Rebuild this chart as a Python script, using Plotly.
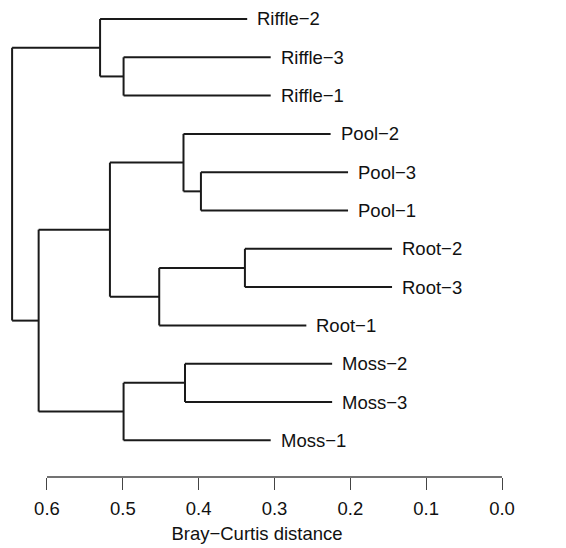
import plotly.graph_objects as go

# ---- data ----
leaf_labels = ["Riffle−2", "Riffle−3", "Riffle−1",
               "Pool−2", "Pool−3", "Pool−1",
               "Root−2", "Root−3", "Root−1",
               "Moss−2", "Moss−3", "Moss−1"]
# merges: negative = leaf number (1-based in leaf order), positive = earlier merge
merge_left = [-2, -1, -5, -4, -7, 5, 4, -10, 8, 7, 2]
merge_right = [-3, 1, -6, 3, -8, -9, 6, -11, -12, 9, 10]
merge_height = [0.499, 0.530, 0.397, 0.420, 0.339, 0.452, 0.517, 0.418, 0.499, 0.611, 0.646]
hang = 0.194
tick_vals = [0.0, 0.1, 0.2, 0.3, 0.4, 0.5, 0.6]
tick_text = ["0.0", "0.1", "0.2", "0.3", "0.4", "0.5", "0.6"]
x_title = "Bray−Curtis distance"

# ---- build segments ----
node_y = {}
xs, ys = [], []
leaf_end = {}
for k, (a, b, h) in enumerate(zip(merge_left, merge_right, merge_height), start=1):
    cy = []
    for c in (a, b):
        if c < 0:
            y = -c
            x_end = h - hang
            leaf_end[-c] = x_end
        else:
            y = node_y[c]
            x_end = merge_height[c - 1]
        xs += [h, x_end, None]
        ys += [y, y, None]
        cy.append(y)
    xs += [h, h, None]
    ys += [cy[0], cy[1], None]
    node_y[k] = (cy[0] + cy[1]) / 2

FONT = "Liberation Sans, Arial, Helvetica, sans-serif"
fig = go.Figure()
fig.add_trace(go.Scatter(x=xs, y=ys, mode="lines",
                         line=dict(color="#1a1a1a", width=2),
                         hoverinfo="skip", showlegend=False))

for i, lab in enumerate(leaf_labels, start=1):
    fig.add_annotation(x=leaf_end[i], y=i, text=lab, showarrow=False,
                       xanchor="left", yanchor="middle", xshift=8,
                       font=dict(family=FONT, size=18.5, color="#111"))

fig.add_shape(type="line", xref="x", yref="paper",
              x0=max(tick_vals), x1=min(tick_vals), y0=0, y1=0,
              line=dict(color="#444", width=1.3))

fig.update_layout(
    width=558, height=540,
    margin=dict(l=0, r=60, t=0, b=71),
    paper_bgcolor="white", plot_bgcolor="white",
    showlegend=False,
    xaxis=dict(range=[0.6514, -0.00527], showgrid=False, zeroline=False,
               showline=False, ticks="outside", ticklen=12, tickwidth=1.3,
               tickcolor="#444", tickvals=tick_vals, ticktext=tick_text,
               ticklabelstandoff=3,
               tickfont=dict(family=FONT, size=18.5, color="#111"),
               title=dict(text=x_title, font=dict(family=FONT, size=18.5, color="#111"),
                          standoff=8)),
    yaxis=dict(range=[12.958, 0.713], visible=False),
)

fig.write_html("out.html")
